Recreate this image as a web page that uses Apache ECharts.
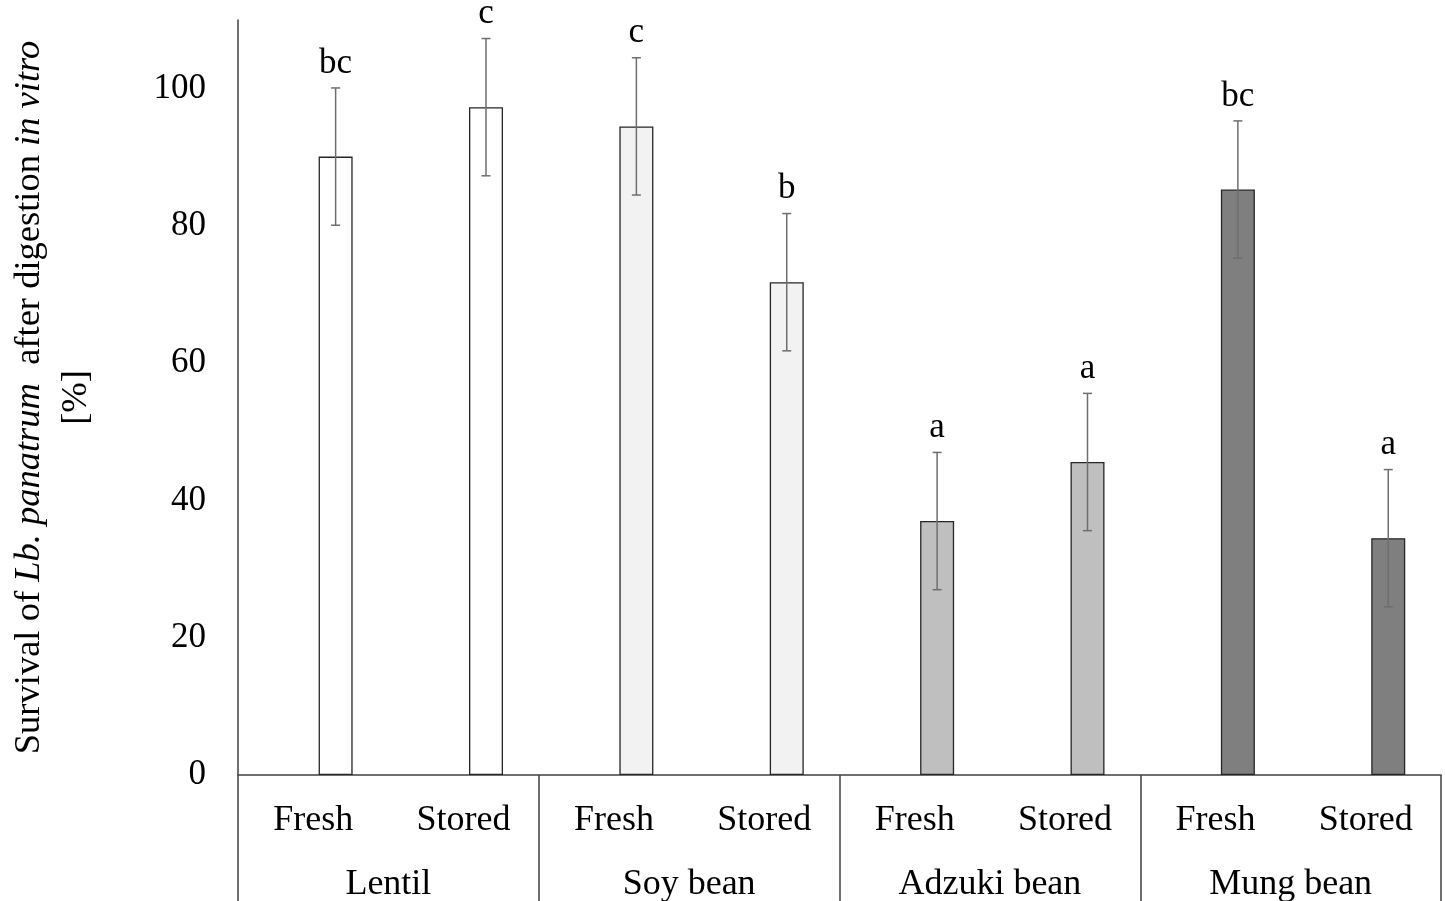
<!DOCTYPE html>
<html>
<head>
<meta charset="utf-8">
<script src="https://cdn.jsdelivr.net/npm/echarts@6/dist/echarts.min.js"></script>
<style>
  html, body { margin: 0; padding: 0; background: #ffffff; }
  #chart { width: 1445px; height: 901px; }
</style>
</head>
<body>
<div id="chart"></div>
<script>
// Legume groups and storage treatments (two-level category axis)
const legumes = ['Lentil', 'Soy bean', 'Adzuki bean', 'Mung bean'];
const treatments = ['Fresh', 'Stored'];

// Mean survival [%] and standard deviation, ordered legume by legume: Fresh, Stored
const survival = [90.1, 97.3, 94.5, 71.8, 37.0, 45.6, 85.3, 34.5];
const deviation = [10, 10, 10, 10, 10, 10, 10, 10];

// Significance letters shown above each bar
const letters = ['bc', 'c', 'c', 'b', 'a', 'a', 'bc', 'a'];

// Value axis range
const yMin = 0;
const yMax = 110;
const yStep = 20;

// Fill colour of each legume group
const legumeColors = ['#ffffff', '#f2f2f2', '#bfbfbf', '#7f7f7f'];

const FONT = '"Liberation Serif", "Times New Roman", serif';
const AXIS_COLOR = '#404040';
const BAR_WIDTH = 34;
const BAR_GAP = 0.32;
// bars sit in the right-hand slot of each category
const barShift = BAR_WIDTH * (1 + BAR_GAP) / 2;

const categories = [];
legumes.forEach(l => treatments.forEach(t => categories.push(l + '|' + t)));

const barData = survival.map((v, i) => ({
  value: v,
  itemStyle: { color: legumeColors[Math.floor(i / treatments.length)] }
}));
const errorData = survival.map((v, i) => [i, v, v + deviation[i], v - deviation[i]]);

const chart = echarts.init(document.getElementById('chart'), null, { renderer: 'canvas' });

chart.setOption({
  animation: false,
  backgroundColor: '#ffffff',
  grid: { left: 238, right: 4, top: 20, bottom: 126, containLabel: false, outerBoundsMode: 'none' },
  xAxis: [
    {
      type: 'category',
      data: categories,
      position: 'bottom',
      axisLine: { show: true, lineStyle: { color: AXIS_COLOR, width: 1.5 } },
      axisTick: { show: false },
      axisLabel: {
        interval: 0,
        margin: 28,
        fontSize: 36,
        fontFamily: FONT,
        color: '#000000',
        formatter: v => v.split('|')[1]
      },
      splitLine: { show: false }
    },
    {
      type: 'category',
      data: legumes,
      position: 'bottom',
      axisLine: { show: false },
      axisTick: { show: true, interval: 0, length: 126, lineStyle: { color: AXIS_COLOR, width: 1.5 } },
      axisLabel: {
        interval: 0,
        margin: 92,
        fontSize: 36,
        fontFamily: FONT,
        color: '#000000'
      },
      splitLine: { show: false }
    }
  ],
  yAxis: {
    type: 'value',
    min: yMin,
    max: yMax,
    interval: yStep,
    axisLine: { show: true, lineStyle: { color: AXIS_COLOR, width: 1.5 } },
    axisTick: { show: false },
    splitLine: { show: false },
    axisLabel: {
      margin: 32,
      fontSize: 35,
      fontFamily: FONT,
      color: '#000000',
      showMaxLabel: false
    },
    name: 'Survival of {i|Lb. panatrum}  after digestion {i|in vitro}\n[%]',
    nameLocation: 'middle',
    nameRotate: 90,
    nameGap: 138,
    nameTextStyle: {
      fontSize: 36.5,
      fontFamily: FONT,
      color: '#000000',
      lineHeight: 47,
      align: 'center',
      rich: {
        i: { fontSize: 36.5, fontFamily: FONT, fontStyle: 'italic', color: '#000000', lineHeight: 47 }
      }
    }
  },
  series: [
    {
      // empty left-hand slot that keeps each bar to the right of its category centre
      name: 'slot',
      type: 'bar',
      xAxisIndex: 0,
      data: survival.map(() => null),
      barWidth: BAR_WIDTH,
      barGap: (BAR_GAP * 100) + '%',
      silent: true
    },
    {
      name: 'Survival',
      type: 'bar',
      xAxisIndex: 0,
      data: barData,
      barWidth: BAR_WIDTH,
      barGap: (BAR_GAP * 100) + '%',
      itemStyle: { borderColor: '#262626', borderWidth: 1.3 },
      z: 2
    },
    {
      name: 'SD',
      type: 'custom',
      xAxisIndex: 0,
      data: errorData,
      z: 5,
      renderItem: function (params, api) {
        const idx = api.value(0);
        const hi = api.coord([idx, api.value(2)]);
        const lo = api.coord([idx, api.value(3)]);
        const x = hi[0] + barShift;
        const cap = 4.5;
        const stroke = { stroke: '#6e6e6e', lineWidth: 1.5 };
        return {
          type: 'group',
          children: [
            { type: 'line', shape: { x1: x, y1: hi[1], x2: x, y2: lo[1] }, style: stroke },
            { type: 'line', shape: { x1: x - cap, y1: hi[1], x2: x + cap, y2: hi[1] }, style: stroke },
            { type: 'line', shape: { x1: x - cap, y1: lo[1], x2: x + cap, y2: lo[1] }, style: stroke },
            {
              type: 'text',
              x: x,
              y: hi[1] - 7,
              style: {
                text: letters[idx],
                fill: '#000000',
                font: '35px ' + FONT,
                align: 'center',
                verticalAlign: 'bottom'
              }
            }
          ]
        };
      }
    }
  ]
});
</script>
</body>
</html>
